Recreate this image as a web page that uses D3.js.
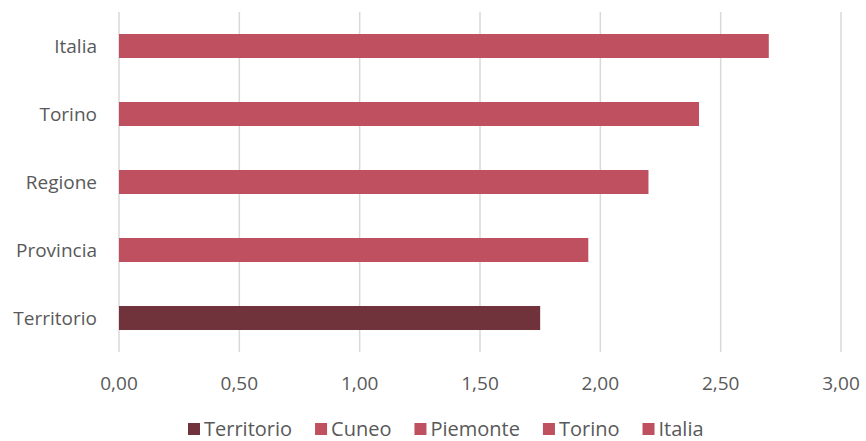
<!DOCTYPE html>
<html><head><meta charset="utf-8">
<script src="https://cdn.jsdelivr.net/npm/d3@7"></script>
<style>body{margin:0;background:#fff;}text{font-family:"Open Sans",Carlito,Calibri,sans-serif;}</style>
</head><body><svg id="c" width="866" height="441"></svg>
<script>
const categories = ["Italia","Torino","Regione","Provincia","Territorio"];
const values = [2.70, 2.41, 2.20, 1.95, 1.75];
const legendNames = ["Territorio","Cuneo","Piemonte","Torino","Italia"];
const ticks = [0,0.5,1,1.5,2,2.5,3];
const pink = "#BE505F", dark = "#70323B";
const colorFor = c => c === "Territorio" ? dark : pink;

const svg = d3.select("#c");
const x = d3.scaleLinear().domain([0,3]).range([119,841]);
const y = d3.scaleBand().domain(categories).range([12,352]).paddingInner(0.647).paddingOuter(0.3235);
const fmt = v => d3.format(".2f")(v).replace(".", ",");

svg.append("g").selectAll("line").data(ticks).join("line")
  .attr("x1", d=>x(d)).attr("x2", d=>x(d)).attr("y1",12).attr("y2",352)
  .attr("stroke","#D9D9D9").attr("stroke-width",1.5);

svg.append("g").selectAll("rect").data(categories).join("rect")
  .attr("x", x(0)).attr("y", d=>y(d))
  .attr("width", (d,i)=>x(values[i])-x(0)).attr("height", y.bandwidth())
  .attr("fill", d=>colorFor(d));

svg.append("g").selectAll("text").data(categories).join("text")
  .attr("x", 97).attr("y", d=>y(d)+y.bandwidth()/2).attr("dy","0.36em")
  .attr("text-anchor","end").attr("font-size",19).attr("fill","#595959").text(d=>d);

svg.append("g").selectAll("text").data(ticks).join("text")
  .attr("x", d=>x(d)).attr("y", 390).attr("text-anchor","middle")
  .attr("font-size",19).attr("fill","#595959").text(d=>fmt(d));

const lg = svg.append("g");
let lx = 188;
legendNames.forEach((n,i)=>{
  lg.append("rect").attr("x",lx).attr("y",423).attr("width",12).attr("height",12)
    .attr("fill", i===0?dark:pink);
  const t = lg.append("text").attr("x",lx+16).attr("y",436).attr("font-size",20)
    .attr("fill","#595959").text(n);
  lx += 16 + t.node().getComputedTextLength() + 23;
});
</script></body></html>
